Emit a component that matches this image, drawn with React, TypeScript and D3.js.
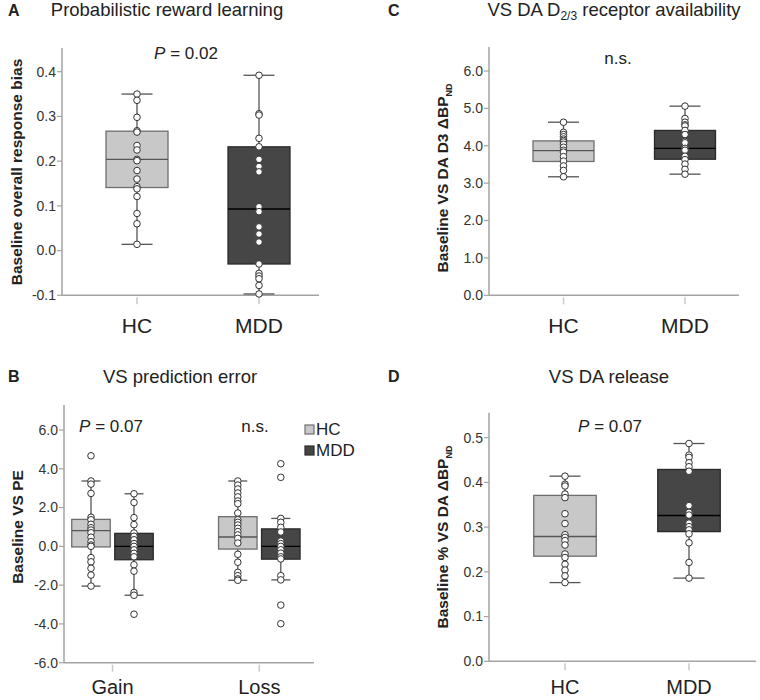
import React from "react";
import * as d3 from "d3";

// ---------- DATA ----------
const GROUPS = ["HC", "MDD"];
const CONDITIONS = ["Gain", "Loss"];

// Panel A: Probabilistic reward learning (response bias)
const A_TICKS = [-0.1, 0.0, 0.1, 0.2, 0.3, 0.4];
const A_HC_POINTS = [0.350, 0.336, 0.298, 0.268, 0.265, 0.235, 0.225, 0.204, 0.201, 0.179, 0.160, 0.143, 0.138, 0.121, 0.083, 0.060, 0.014];
const A_MDD_POINTS = [0.392, 0.306, 0.303, 0.251, 0.232, 0.204, 0.188, 0.176, 0.098, 0.087, 0.053, 0.037, 0.019, -0.030, -0.051, -0.057, -0.063, -0.078, -0.097];
// [lower whisker, Q1, median, Q3, upper whisker]
const A_HC_STATS = [0.014, 0.141, 0.204, 0.267, 0.350];
const A_MDD_STATS = [-0.097, -0.030, 0.093, 0.232, 0.392];

// Panel B: VS prediction error
const B_TICKS = [-6, -4, -2, 0, 2, 4, 6];
const B_HC_GAIN_POINTS = [4.67, 3.37, 3.21, 2.73, 1.50, 1.37, 1.14, 0.96, 0.84, 0.70, 0.47, 0.24, 0.07, 0.0, -0.58, -0.80, -1.13, -1.48, -2.05];
const B_MDD_GAIN_POINTS = [2.71, 2.26, 1.48, 1.12, 0.69, 0.52, 0.34, 0.14, 0.0, -0.18, -0.36, -0.54, -0.95, -1.28, -2.38, -2.52, -3.50];
const B_HC_LOSS_POINTS = [3.37, 3.16, 2.96, 2.75, 2.55, 2.34, 2.20, 1.72, 1.37, 1.24, 1.10, 0.93, 0.76, 0.59, 0.41, 0.17, -0.41, -0.82, -1.34, -1.51, -1.68, -1.75];
const B_MDD_LOSS_POINTS = [4.26, 3.56, 1.44, 1.24, 0.98, 0.74, 0.27, 0.14, 0.0, -0.18, -0.35, -0.54, -0.65, -1.51, -1.73, -3.03, -3.99];
const B_HC_GAIN_STATS = [-2.05, -0.03, 0.81, 1.39, 3.37];
const B_MDD_GAIN_STATS = [-2.52, -0.69, 0.0, 0.67, 2.71];
const B_HC_LOSS_STATS = [-1.75, -0.14, 0.48, 1.53, 3.37];
const B_MDD_LOSS_STATS = [-1.73, -0.66, 0.0, 0.90, 1.44];

// Panel C: VS DA D2/3 receptor availability
const C_TICKS = [0, 1, 2, 3, 4, 5, 6];
const C_HC_POINTS = [4.63, 4.36, 4.30, 4.24, 4.18, 4.14, 4.10, 4.04, 3.96, 3.88, 3.83, 3.71, 3.59, 3.46, 3.34, 3.17];
const C_MDD_POINTS = [5.06, 4.73, 4.63, 4.56, 4.53, 4.41, 4.30, 4.12, 4.08, 3.93, 3.88, 3.72, 3.63, 3.51, 3.37, 3.24];
const C_HC_STATS = [3.17, 3.58, 3.87, 4.13, 4.63];
const C_MDD_STATS = [3.24, 3.64, 3.93, 4.41, 5.06];

// Panel D: VS DA release
const D_TICKS = [0, 0.1, 0.2, 0.3, 0.4, 0.5];
const D_HC_POINTS = [0.414, 0.396, 0.392, 0.374, 0.366, 0.330, 0.308, 0.283, 0.277, 0.270, 0.260, 0.240, 0.232, 0.217, 0.204, 0.191, 0.176];
const D_MDD_POINTS = [0.487, 0.461, 0.456, 0.444, 0.435, 0.425, 0.348, 0.333, 0.327, 0.309, 0.301, 0.294, 0.285, 0.265, 0.221, 0.186];
const D_HC_STATS = [0.176, 0.235, 0.279, 0.371, 0.414];
const D_MDD_STATS = [0.186, 0.290, 0.326, 0.429, 0.487];

// ---------- STYLE ----------
const FONT = "'Liberation Sans', Arial, Helvetica, sans-serif";
const AXIS_COLOR = "#a3a3a3";
const TEXT_COLOR = "#222";
const TICK_TEXT = "#333";
const FILL = { HC: "#c8c8c8", MDD: "#464646" };
const STROKE = { HC: "#6e6e6e", MDD: "#2a2a2a" };
const MEDIAN = { HC: "#555", MDD: "#000" };

type Box = { group: string; x: number; stats: number[]; points: number[] };

function BoxPlot({ b, y, boxW, capW }: { b: Box; y: d3.ScaleLinear<number, number>; boxW: number; capW: number }) {
  const [lo, q1, med, q3, hi] = b.stats;
  const g = b.group as "HC" | "MDD";
  return (
    <g>
      <line x1={b.x} x2={b.x} y1={y(hi)} y2={y(lo)} stroke="#555" strokeWidth={1.3} />
      <line x1={b.x - capW / 2} x2={b.x + capW / 2} y1={y(hi)} y2={y(hi)} stroke="#555" strokeWidth={1.3} />
      <line x1={b.x - capW / 2} x2={b.x + capW / 2} y1={y(lo)} y2={y(lo)} stroke="#555" strokeWidth={1.3} />
      <rect x={b.x - boxW / 2} y={y(q3)} width={boxW} height={y(q1) - y(q3)} fill={FILL[g]} stroke={STROKE[g]} strokeWidth={1.3} />
      <line x1={b.x - boxW / 2} x2={b.x + boxW / 2} y1={y(med)} y2={y(med)} stroke={MEDIAN[g]} strokeWidth={1.4} />
      {b.points.map((v, i) => (
        <circle key={i} cx={b.x} cy={y(v)} r={3.3} fill="#fff" stroke="#333" strokeWidth={1} />
      ))}
    </g>
  );
}

function Axes({ y, axisX, yTop, xEnd, ticks, fmt, catX, catLabels, catLabelY, catFont = 21 }: any) {
  const yBottom = y.range()[0];
  return (
    <g fontFamily={FONT}>
      <line x1={axisX} x2={axisX} y1={yTop} y2={yBottom} stroke={AXIS_COLOR} strokeWidth={1.5} />
      <line x1={axisX} x2={xEnd} y1={yBottom} y2={yBottom} stroke={AXIS_COLOR} strokeWidth={1.5} />
      {ticks.map((t: number) => (
        <g key={t}>
          <line x1={axisX - 5} x2={axisX} y1={y(t)} y2={y(t)} stroke={AXIS_COLOR} strokeWidth={1.2} />
          <text x={axisX - 6} y={y(t)} dy="0.35em" textAnchor="end" fontSize={14} fill={TICK_TEXT}>
            {fmt(t)}
          </text>
        </g>
      ))}
      {catX.map((cx: number, i: number) => (
        <g key={i}>
          <line x1={cx} x2={cx} y1={yBottom + 2} y2={yBottom + 9} stroke="#c8c8c8" strokeWidth={1.5} />
          <text x={cx} y={catLabelY} textAnchor="middle" fontSize={catFont} fill={TEXT_COLOR}>
            {catLabels[i]}
          </text>
        </g>
      ))}
    </g>
  );
}

function PText({ x, y, value }: { x: number; y: number; value: string }) {
  return (
    <text x={x} y={y} textAnchor="middle" fontSize={17} fill={TEXT_COLOR} fontFamily={FONT}>
      <tspan fontStyle="italic">P</tspan>
      {" = " + value}
    </text>
  );
}

export default function App() {
  const fmt1 = (t: number) => t.toFixed(1);

  // Panel A
  const yA = d3.scaleLinear().domain([-0.1, 0.4]).range([295.3, 71.7]);
  const xA = d3.scalePoint<string>().domain(GROUPS).range([137, 259]);
  const boxesA: Box[] = [
    { group: "HC", x: xA("HC")!, stats: A_HC_STATS, points: A_HC_POINTS },
    { group: "MDD", x: xA("MDD")!, stats: A_MDD_STATS, points: A_MDD_POINTS },
  ];

  // Panel C
  const yC = d3.scaleLinear().domain([0, 6]).range([295.3, 71]);
  const xC = d3.scalePoint<string>().domain(GROUPS).range([563.5, 685]);
  const boxesC: Box[] = [
    { group: "HC", x: xC("HC")!, stats: C_HC_STATS, points: C_HC_POINTS },
    { group: "MDD", x: xC("MDD")!, stats: C_MDD_STATS, points: C_MDD_POINTS },
  ];

  // Panel B
  const yB = d3.scaleLinear().domain([-6, 6]).range([662.7, 430]);
  const xB = d3.scalePoint<string>().domain(CONDITIONS).range([112.5, 259.3]);
  const off = d3.scalePoint<string>().domain(GROUPS).range([-21.5, 21.5]);
  const boxesB: Box[] = [
    { group: "HC", x: xB("Gain")! + off("HC")!, stats: B_HC_GAIN_STATS, points: B_HC_GAIN_POINTS },
    { group: "MDD", x: xB("Gain")! + off("MDD")!, stats: B_MDD_GAIN_STATS, points: B_MDD_GAIN_POINTS },
    { group: "HC", x: xB("Loss")! + off("HC")!, stats: B_HC_LOSS_STATS, points: B_HC_LOSS_POINTS },
    { group: "MDD", x: xB("Loss")! + off("MDD")!, stats: B_MDD_LOSS_STATS, points: B_MDD_LOSS_POINTS },
  ];

  // Panel D
  const yD = d3.scaleLinear().domain([0, 0.5]).range([661.3, 437.7]);
  const xD = d3.scalePoint<string>().domain(GROUPS).range([565, 689]);
  const boxesD: Box[] = [
    { group: "HC", x: xD("HC")!, stats: D_HC_STATS, points: D_HC_POINTS },
    { group: "MDD", x: xD("MDD")!, stats: D_MDD_STATS, points: D_MDD_POINTS },
  ];

  return (
    <svg width={760} height={700} style={{ position: "absolute", left: 0, top: 0, background: "#fff" }} fontFamily={FONT}>
      <rect x={0} y={0} width={760} height={700} fill="#fff" />

      {/* ---------- Panel A ---------- */}
      <text x={8} y={16} fontSize={16} fontWeight="bold" fill={TEXT_COLOR}>A</text>
      <text x={167} y={16} textAnchor="middle" fontSize={18.5} fill={TEXT_COLOR}>Probabilistic reward learning</text>
      <text transform="translate(17,172) rotate(-90)" textAnchor="middle" dy="0.35em" fontSize={15.5} fontWeight="bold" fill={TEXT_COLOR}>
        Baseline overall response bias
      </text>
      <Axes y={yA} axisX={62} yTop={48} xEnd={319} ticks={A_TICKS} fmt={fmt1} catX={GROUPS.map((g) => xA(g))} catLabels={GROUPS} catLabelY={333} />
      <PText x={186} y={59} value="0.02" />
      {boxesA.map((b, i) => <BoxPlot key={i} b={b} y={yA} boxW={62} capW={31} />)}

      {/* ---------- Panel C ---------- */}
      <text x={388} y={16} fontSize={16} fontWeight="bold" fill={TEXT_COLOR}>C</text>
      <text x={614} y={16} textAnchor="middle" fontSize={18.5} fill={TEXT_COLOR}>
        VS DA D<tspan fontSize={12} dy={4}>2/3</tspan><tspan dy={-4}> receptor availability</tspan>
      </text>
      <text transform="translate(443,178) rotate(-90)" textAnchor="middle" dy="0.35em" fontSize={15.5} fontWeight="bold" fill={TEXT_COLOR}>
        Baseline VS DA D3 ΔBP<tspan fontSize={9} dy={4}>ND</tspan>
      </text>
      <Axes y={yC} axisX={489} yTop={47} xEnd={739} ticks={C_TICKS} fmt={fmt1} catX={GROUPS.map((g) => xC(g))} catLabels={GROUPS} catLabelY={333} />
      <text x={618} y={64} textAnchor="middle" fontSize={17} fill={TEXT_COLOR}>n.s.</text>
      {boxesC.map((b, i) => <BoxPlot key={i} b={b} y={yC} boxW={61} capW={31} />)}

      {/* ---------- Panel B ---------- */}
      <text x={8} y={382} fontSize={16} fontWeight="bold" fill={TEXT_COLOR}>B</text>
      <text x={180} y={383} textAnchor="middle" fontSize={18.5} fill={TEXT_COLOR}>VS prediction error</text>
      <text transform="translate(18,527) rotate(-90)" textAnchor="middle" dy="0.35em" fontSize={15.5} fontWeight="bold" fill={TEXT_COLOR}>
        Baseline VS PE
      </text>
      <Axes y={yB} axisX={64} yTop={405} xEnd={314} ticks={B_TICKS} fmt={fmt1} catX={CONDITIONS.map((c) => xB(c))} catLabels={CONDITIONS} catLabelY={694} catFont={20} />
      <PText x={111} y={432} value="0.07" />
      <text x={255} y={432} textAnchor="middle" fontSize={17} fill={TEXT_COLOR}>n.s.</text>
      {boxesB.map((b, i) => <BoxPlot key={i} b={b} y={yB} boxW={38.5} capW={19} />)}
      {GROUPS.map((g, i) => (
        <g key={g}>
          <rect x={305} y={425 + i * 21} width={9} height={9} fill={FILL[g as "HC" | "MDD"]} stroke={STROKE[g as "HC" | "MDD"]} strokeWidth={1.2} />
          <text x={316} y={435 + i * 21} fontSize={17} fill={TEXT_COLOR}>{g}</text>
        </g>
      ))}

      {/* ---------- Panel D ---------- */}
      <text x={388} y={382} fontSize={16} fontWeight="bold" fill={TEXT_COLOR}>D</text>
      <text x={609} y={383} textAnchor="middle" fontSize={18.5} fill={TEXT_COLOR}>VS DA release</text>
      <text transform="translate(443,537) rotate(-90)" textAnchor="middle" dy="0.35em" fontSize={15.5} fontWeight="bold" fill={TEXT_COLOR}>
        Baseline % VS DA ΔBP<tspan fontSize={9} dy={4}>ND</tspan>
      </text>
      <Axes y={yD} axisX={489} yTop={412.7} xEnd={756} ticks={D_TICKS} fmt={fmt1} catX={GROUPS.map((g) => xD(g))} catLabels={GROUPS} catLabelY={694} catFont={20} />
      <PText x={610} y={432} value="0.07" />
      {boxesD.map((b, i) => <BoxPlot key={i} b={b} y={yD} boxW={62.5} capW={31} />)}
    </svg>
  );
}
